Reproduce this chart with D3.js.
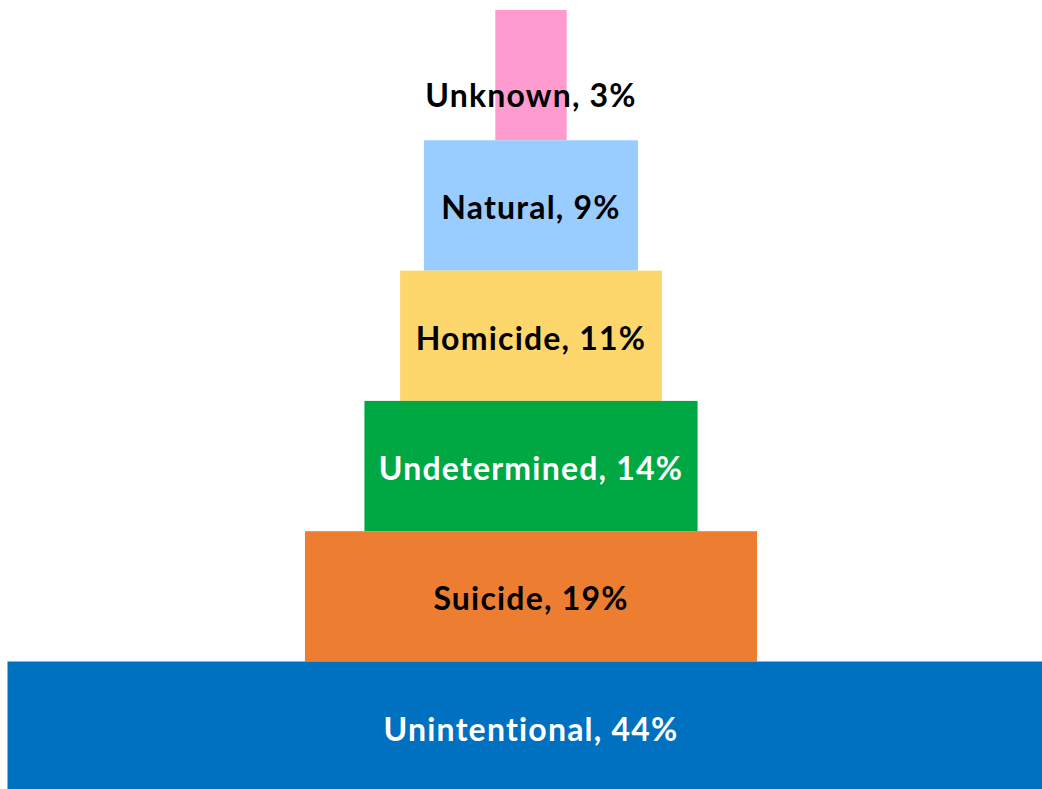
<!DOCTYPE html>
<html>
<head>
<meta charset="utf-8">
<script src="https://cdn.jsdelivr.net/npm/d3@7"></script>
<style>
html, body { margin: 0; padding: 0; background: #fff; overflow: hidden; }
svg { display: block; }
</style>
</head>
<body>
<svg id="chart" width="1042" height="789"></svg>
<script>
const categories = ["Unknown", "Natural", "Homicide", "Undetermined", "Suicide", "Unintentional"];
const percents = [3, 9, 11, 14, 19, 44];
const colors = ["#FF9BCF", "#99CCFF", "#FDD76B", "#00A843", "#ED7D31", "#0070C0"];
const textColors = ["#000", "#000", "#000", "#fff", "#000", "#fff"];

const W = 1042, H = 789, cx = 531;
const svg = d3.select("#chart");

const y = d3.scaleBand().domain(categories).range([10, 10 + 6 * 130.3]).paddingInner(0);
const w = d3.scaleLinear().domain([0, 44]).range([0, 1047]);

svg.selectAll("rect.bar")
  .data(categories)
  .join("rect")
  .attr("class", "bar")
  .attr("x", (d, i) => cx - w(percents[i]) / 2)
  .attr("y", d => y(d))
  .attr("width", (d, i) => w(percents[i]))
  .attr("height", y.bandwidth())
  .attr("fill", (d, i) => colors[i]);

const labels = svg.selectAll("text.lbl")
  .data(categories)
  .join("text")
  .attr("class", "lbl")
  .attr("x", cx)
  .attr("y", d => y(d) + y.bandwidth() / 2)
  .attr("dy", 14)
  .attr("text-anchor", "middle")
  .attr("font-family", "Lato, 'Open Sans', sans-serif")
  .attr("font-weight", "bold")
  .attr("font-size", 32)
  .attr("letter-spacing", 1.2)
  .attr("fill", (d, i) => textColors[i])
  .text((d, i) => `${d}, ${percents[i]}%`);

// labels wider than their bar sit lower, as in the original
labels.each(function(d, i) {
  const tw = this.getComputedTextLength();
  if (tw > w(percents[i])) d3.select(this).attr("dy", 32);
});
</script>
</body>
</html>
